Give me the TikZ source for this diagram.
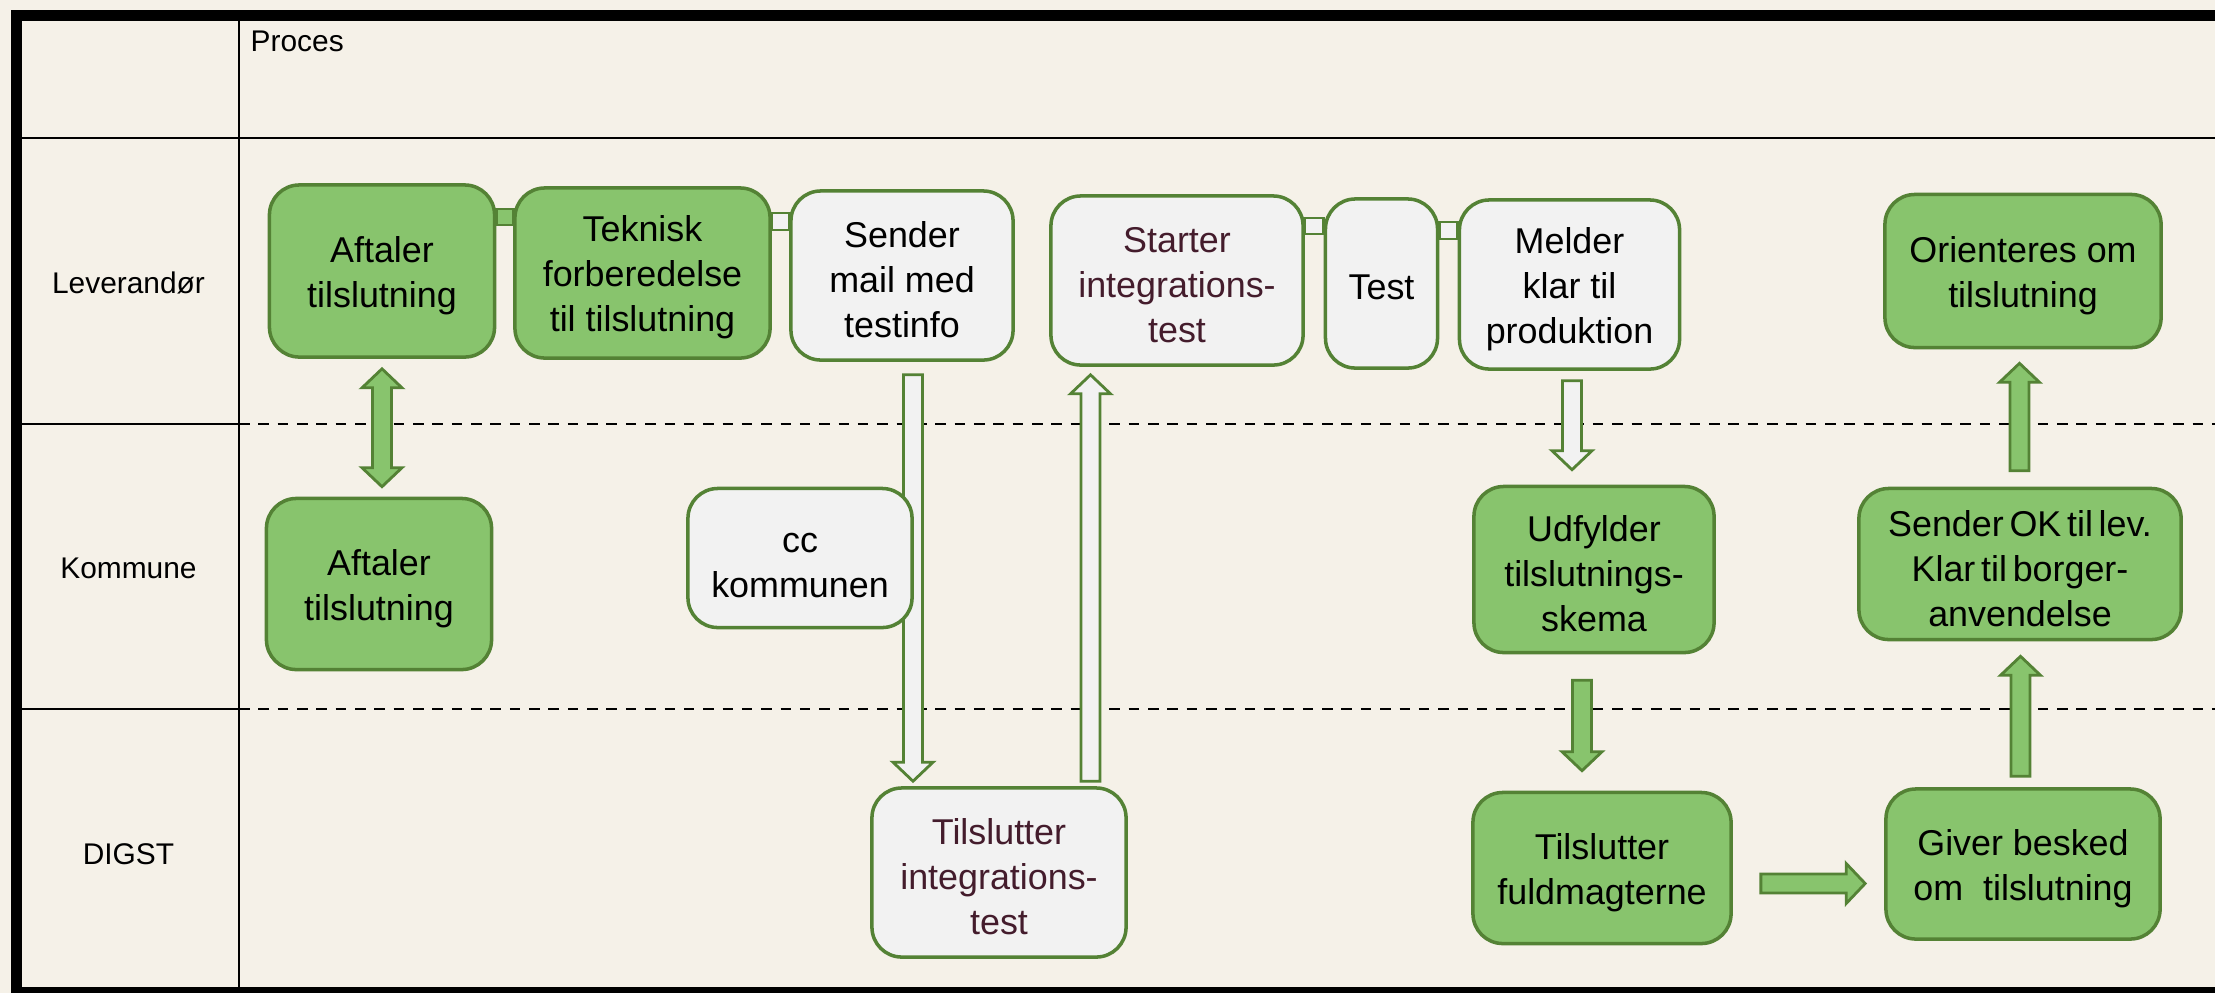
\documentclass[tikz,border=0pt]{standalone}
\usepackage{fontspec}
\setmainfont{Liberation Sans}
\usetikzlibrary{calc}
\definecolor{bgc}{RGB}{245,241,232}
\definecolor{gfill}{RGB}{136,196,109}
\definecolor{gline}{RGB}{84,130,53}
\definecolor{lfill}{RGB}{242,242,242}
\definecolor{maroon}{RGB}{68,28,44}
\pgfdeclarelayer{back}
\pgfdeclarelayer{mid}
\pgfsetlayers{back,mid,main}
\newcommand\tp{\rule{0pt}{10pt}}
\newcommand\blockarrow[3]{%
 \coordinate (bahead) at ($(#3)!0.19cm!(#2)$);
 \filldraw[#1] ($(#2)!0.095cm!90:(#3)$) -- ($(bahead)!0.095cm!90:(#3)$) -- ($(bahead)!0.2cm!90:(#3)$) -- (#3) -- ($(bahead)!0.2cm!-90:(#3)$) -- ($(bahead)!0.095cm!-90:(#3)$) -- ($(#2)!0.095cm!-90:(#3)$) -- cycle;}
\newcommand\dblarrow[3]{%
 \coordinate (dahone) at ($(#2)!0.19cm!(#3)$);
 \coordinate (dahtwo) at ($(#3)!0.19cm!(#2)$);
 \filldraw[#1] (#2) -- ($(dahone)!0.2cm!90:(#3)$) -- ($(dahone)!0.095cm!90:(#3)$) -- ($(dahtwo)!0.095cm!90:(#3)$) -- ($(dahtwo)!0.2cm!90:(#3)$) -- (#3) -- ($(dahtwo)!0.2cm!-90:(#3)$) -- ($(dahtwo)!0.095cm!-90:(#3)$) -- ($(dahone)!0.095cm!-90:(#3)$) -- ($(dahone)!0.2cm!-90:(#3)$) -- cycle;}
\begin{document}
\begin{tikzpicture}[x=0.01cm,y=-0.01cm,
 box/.style={draw=gline, line width=1pt, rounded corners=8.5pt, align=center, inner sep=0pt, font=\fontsize{10.2}{12.8}\selectfont},
 gbox/.style={box, fill=gfill},
 lbox/.style={box, fill=lfill},
 lab/.style={font=\fontsize{8.5}{10}\selectfont, inner sep=0pt},
 garrow/.style={fill=gfill, draw=gline, line width=0.8pt},
 larrow/.style={fill=lfill, draw=gline, line width=0.8pt},
 barstyle/.style={draw=gline, line width=0.8pt},
 thin/.style={line width=0.65pt},
 lanedash/.style={line width=0.8pt, dash pattern=on 3pt off 2.5pt}]
\useasboundingbox (0,0) rectangle (2215,993);
\begin{pgfonlayer}{back}
 \fill[bgc] (0,0) rectangle (2215,993);
 % frame
 \fill[black] (11,10) rectangle (2215,21);
 \fill[black] (11,10) rectangle (22,993);
 \fill[black] (11,987) rectangle (2215,993);
 \draw[thin] (239,21) -- (239,987);
 \draw[thin] (22,138) -- (2215,138);
 \draw[thin] (22,424) -- (239,424);
 \draw[thin] (22,709) -- (239,709);
 \draw[lanedash] (239,424) -- (2215,424);
 \draw[lanedash] (239,709) -- (2215,709);
\end{pgfonlayer}
% labels
\node[lab, anchor=base west] (proces) at (250,51) {Proces};
\node[lab] (llev) at (128.5,283) {Leverandør};
\node[lab] (lkom) at (128.5,568) {Kommune};
\node[lab] (ldig) at (128.5,854) {DIGST};
% Leverandor lane
\node[gbox, minimum width=2.25cm, minimum height=1.72cm] (aftL) at (382,271) {\tp Aftaler\\tilslutning};
\node[gbox, minimum width=2.55cm, minimum height=1.70cm] (tek) at (642.5,273) {\tp Teknisk\\forberedelse\\til tilslutning};
\node[lbox, minimum width=2.22cm, minimum height=1.69cm] (send) at (902,275.5) {\tp Sender\\mail med\\testinfo};
\node[lbox, minimum width=2.52cm, minimum height=1.69cm, text=maroon] (start) at (1177,280.5) {\tp Starter\\integrations-\\test};
\node[lbox, minimum width=1.12cm, minimum height=1.69cm] (test) at (1381.5,283.5) {\rule{0pt}{9pt}Test};
\node[lbox, minimum width=2.20cm, minimum height=1.69cm] (meld) at (1569.5,284.5) {\tp Melder\\klar til\\produktion};
\node[gbox, minimum width=2.76cm, minimum height=1.53cm] (orient) at (2023,271) {\tp Orienteres om\\tilslutning};
% Kommune lane
\node[gbox, minimum width=2.25cm, minimum height=1.71cm] (aftK) at (379,584) {\tp Aftaler\\tilslutning};
\node[gbox, minimum width=2.40cm, minimum height=1.66cm] (udf) at (1594,569.5) {\tp Udfylder\\tilslutnings-\\skema};
\node[gbox, minimum width=3.22cm, minimum height=1.51cm, execute at begin node={\spaceskip=0.16em plus 0.05em}] (sendok) at (2020,564) {\tp Sender OK til lev.\\Klar til borger-\\anvendelse};
% DIGST lane
\node[lbox, minimum width=2.54cm, minimum height=1.69cm, text=maroon] (tilint) at (999,872.5) {\tp Tilslutter\\integrations-\\test};
\node[gbox, minimum width=2.58cm, minimum height=1.51cm] (tilful) at (1602,868) {\tp Tilslutter\\fuldmagterne};
\node[gbox, minimum width=2.74cm, minimum height=1.50cm] (giver) at (2023,864) {\tp Giver besked\\om\ \ tilslutning};
\begin{pgfonlayer}{mid}
 % bars between boxes
 \filldraw[barstyle, fill=gfill] ($(aftL.east)+(0,-62)$) rectangle ($(tek.west)+(0,-48)$);
 \filldraw[barstyle, fill=lfill] ($(tek.east)+(0,-60)$) rectangle ($(send.west)+(0,-45.5)$);
 \filldraw[barstyle, fill=lfill] ($(start.east)+(0,-62.5)$) rectangle ($(test.west)+(0,-49.5)$);
 \filldraw[barstyle, fill=lfill] ($(test.east)+(0,-61.5)$) rectangle ($(meld.west)+(0,-45.5)$);
 % arrows
 \coordinate (da) at ($(aftL.south)+(0,10)$);
 \coordinate (db) at ($(aftL.south |- aftK.north)+(0,-10)$);
 \dblarrow{garrow}{da}{db}
 \coordinate (sa) at ($(send.south)+(11,13)$);
 \coordinate (sb) at ($(send.south |- tilint.north)+(11,-5)$);
 \blockarrow{larrow}{sa}{sb}
 \coordinate (ta) at ($(tilint.north)+(91.5,-5)$);
 \coordinate (tb) at ($(tilint.north |- start.south)+(91.5,8)$);
 \blockarrow{larrow}{ta}{tb}
 \coordinate (ma) at ($(meld.south)+(2.5,10)$);
 \coordinate (mb) at ($(meld.south |- udf.north)+(2.5,-15)$);
 \blockarrow{larrow}{ma}{mb}
 \coordinate (ua) at ($(udf.south)+(-12,26)$);
 \coordinate (ub) at ($(udf.south |- tilful.north)+(-12,-20)$);
 \blockarrow{garrow}{ua}{ub}
 \coordinate (fa) at ($(tilful.east)+(28,15.5)$);
 \coordinate (fb) at ($(tilful.east -| giver.west)+(-19,15.5)$);
 \blockarrow{garrow}{fa}{fb}
 \coordinate (ga) at ($(giver.north)+(-2.5,-11)$);
 \coordinate (gb) at ($(giver.north |- sendok.south)+(-2.5,15)$);
 \blockarrow{garrow}{ga}{gb}
 \coordinate (oa) at ($(sendok.north)+(-0.5,-16)$);
 \coordinate (ob) at ($(sendok.north |- orient.south)+(-0.5,14)$);
 \blockarrow{garrow}{oa}{ob}
\end{pgfonlayer}
% cc box drawn over the arrow
\node[lbox, minimum width=2.24cm, minimum height=1.39cm] (cc) at (800,558) {\tp cc\\kommunen};
\end{tikzpicture}
\end{document}
